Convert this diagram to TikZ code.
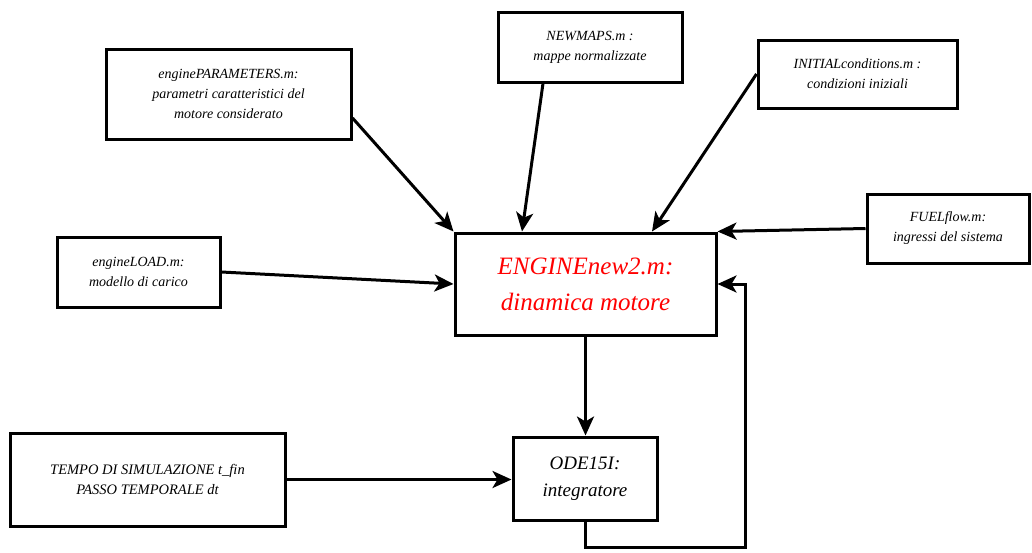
\documentclass[tikz,border=0pt]{standalone}
\usepackage{fontspec}
\setmainfont{Liberation Serif}
\usetikzlibrary{arrows.meta}
\definecolor{enginered}{RGB}{255,0,0}
\tikzset{
  box/.style={draw, line width=3pt, align=center, inner sep=2pt,
    font=\fontsize{14}{20}\selectfont\itshape},
  arr/.style={line width=3pt, -{Stealth[length=19pt,width=17pt,inset=5pt]}},
  link/.style={line width=3pt}
}
\begin{document}
\begin{tikzpicture}[x=1pt,y=-1pt]
\useasboundingbox (0,0) rectangle (1032,552);
\node[box, minimum width=245pt, minimum height=90pt] (params) at (228.5,94)
  {enginePARAMETERS.m:\\parametri caratteristici del\\motore considerato};
\node[box, minimum width=184pt, minimum height=70pt] (maps) at (590,47)
  {NEWMAPS.m :\\mappe normalizzate};
\node[box, minimum width=199pt, minimum height=68pt] (init) at (857.5,74)
  {INITIALconditions.m :\\condizioni iniziali};
\node[box, minimum width=162pt, minimum height=69pt] (fuel) at (948,228.5)
  {FUELflow.m:\\ingressi del sistema};
\node[box, minimum width=163pt, minimum height=70pt] (load) at (138.5,272)
  {engineLOAD.m:\\modello di carico};
\node[box, minimum width=261pt, minimum height=102pt, text=enginered,
  font=\fontsize{25}{36}\selectfont\itshape] (engine) at (585.5,284)
  {ENGINEnew2.m:\\dinamica motore};
\node[box, minimum width=144pt, minimum height=83pt,
  font=\fontsize{19}{27}\selectfont\itshape] (ode) at (585,478.5)
  {ODE15I:\\integratore};
\node[box, minimum width=275pt, minimum height=93pt,
  font=\fontsize{14.5}{20}\selectfont\itshape] (tempo) at (147.5,479.5)
  {TEMPO DI SIMULAZIONE t\_fin\\PASSO TEMPORALE dt};
\coordinate (fb) at (745,547);

\draw[arr] ([yshift=-24pt]params.east) -- (engine.north west);
\draw[arr] ([xshift=-47pt]maps.south) -- ([xshift=-63.5pt]engine.north);
\draw[arr] (init.west) -- ([xshift=66.5pt]engine.north);
\draw[arr] (fuel.west) -- (engine.north east);
\draw[arr] (load.east) -- (engine.west);
\draw[arr] (engine.south) -- (engine.south |- ode.north);
\draw[arr] (tempo.east) -- (tempo.east -| ode.west);
\draw[arr] (ode.south) |- (fb) |- (engine.east);
\end{tikzpicture}
\end{document}
